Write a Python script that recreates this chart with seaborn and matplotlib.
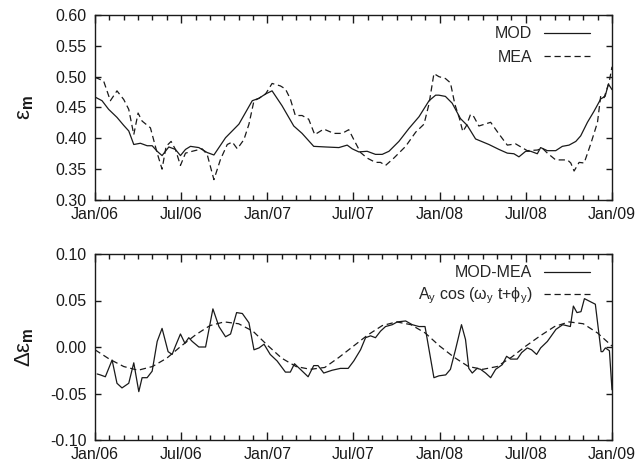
import numpy as np
import pandas as pd
import matplotlib
matplotlib.use('Agg')
import matplotlib.pyplot as plt
import seaborn as sns
from matplotlib.ticker import MultipleLocator, FormatStrFormatter

# ---- data (time in months since Jan 2006) ----
mod_t = [0.0, 0.49, 0.95, 1.53, 2.0, 2.35, 2.7, 3.16, 3.63, 3.98, 4.33, 4.67, 5.14, 5.6, 5.95,
         6.3, 6.65, 7.23, 7.81, 8.28, 9.09, 10.02, 10.95, 11.42, 11.88, 12.33, 13.02, 13.84,
         14.42, 15.23, 16.05, 16.98, 17.56, 17.91, 18.37, 18.95, 19.53, 20.0, 20.47, 21.16,
         21.86, 22.56, 23.26, 23.72, 23.94, 24.4, 24.87, 25.45, 25.92, 26.5, 27.43, 28.13,
         28.71, 29.17, 29.52, 29.99, 30.34, 30.8, 31.03, 31.5, 32.08, 32.54, 33.01, 33.48,
         33.82, 34.29, 34.75, 35.22, 35.52, 35.75, 36.0]
mod_v = [0.467, 0.461, 0.447, 0.434, 0.421, 0.412, 0.390, 0.392, 0.388, 0.388, 0.379, 0.372,
         0.386, 0.382, 0.372, 0.382, 0.387, 0.385, 0.377, 0.373, 0.401, 0.423, 0.461, 0.465,
         0.472, 0.477, 0.453, 0.420, 0.408, 0.387, 0.386, 0.385, 0.389, 0.383, 0.378, 0.379,
         0.374, 0.374, 0.379, 0.395, 0.416, 0.435, 0.461, 0.470, 0.470, 0.468, 0.457, 0.432,
         0.421, 0.399, 0.390, 0.382, 0.376, 0.375, 0.370, 0.379, 0.379, 0.375, 0.385, 0.380,
         0.380, 0.387, 0.389, 0.395, 0.404, 0.426, 0.444, 0.464, 0.468, 0.488, 0.479]

mea_t = [0.0, 0.6, 1.07, 1.53, 2.0, 2.35, 2.7, 3.0, 3.28, 3.86, 4.33, 4.67, 4.95, 5.3, 5.6,
         5.95, 6.3, 6.77, 7.46, 7.81, 8.28, 8.74, 9.21, 9.56, 9.91, 10.37, 10.72, 11.07,
         11.42, 11.88, 12.33, 12.91, 13.26, 13.6, 13.95, 14.42, 14.88, 15.3, 15.93, 16.63,
         17.21, 17.67, 18.02, 18.49, 18.95, 19.53, 19.88, 20.23, 20.81, 21.63, 22.33, 22.91,
         23.26, 23.6, 23.95, 24.4, 24.75, 25.06, 25.38, 25.61, 25.85, 26.15, 26.38, 26.73,
         27.55, 28.13, 28.71, 29.29, 30.1, 30.8, 31.15, 31.5, 32.08, 32.9, 33.13, 33.36,
         33.71, 34.06, 34.52, 34.99, 35.22, 35.45, 35.8, 36.0]
mea_v = [0.499, 0.493, 0.461, 0.477, 0.463, 0.447, 0.406, 0.441, 0.428, 0.417, 0.376, 0.350,
         0.387, 0.395, 0.382, 0.356, 0.376, 0.379, 0.383, 0.374, 0.333, 0.366, 0.390, 0.394,
         0.383, 0.398, 0.423, 0.461, 0.465, 0.472, 0.489, 0.485, 0.480, 0.464, 0.437, 0.437,
         0.431, 0.406, 0.415, 0.408, 0.408, 0.414, 0.398, 0.377, 0.368, 0.361, 0.361, 0.356,
         0.368, 0.387, 0.410, 0.423, 0.456, 0.505, 0.500, 0.497, 0.490, 0.455, 0.432, 0.411,
         0.420, 0.439, 0.435, 0.420, 0.426, 0.407, 0.389, 0.391, 0.380, 0.381, 0.384, 0.376,
         0.365, 0.365, 0.360, 0.347, 0.361, 0.360, 0.391, 0.426, 0.470, 0.466, 0.491, 0.516]

diff_t = [0.15, 0.37, 0.72, 1.19, 1.53, 1.88, 2.35, 2.7, 3.05, 3.28, 3.63, 3.98, 4.33, 4.67,
          5.09, 5.37, 5.6, 5.95, 6.26, 6.53, 6.77, 7.23, 7.7, 8.21, 8.63, 9.09, 9.44, 9.86,
          10.26, 10.72, 11.07, 11.42, 11.77, 12.2, 12.68, 13.26, 13.6, 13.89, 14.3, 14.84,
          15.23, 15.53, 15.93, 16.51, 17.09, 17.63, 18.02, 18.49, 18.84, 19.19, 19.53, 19.88,
          20.23, 20.7, 21.05, 21.63, 22.09, 22.56, 22.98, 23.6, 23.95, 24.42, 24.75, 25.1,
          25.52, 25.8, 26.03, 26.27, 26.6, 26.85, 27.2, 27.55, 27.9, 28.36, 28.66, 28.94,
          29.4, 29.71, 30.1, 30.4, 30.75, 31.03, 31.5, 32.1, 32.57, 33.1, 33.31, 33.56,
          33.84, 34.08, 34.84, 35.24, 35.35, 35.54, 35.82, 36.0]
diff_v = [-0.029, -0.030, -0.032, -0.014, -0.039, -0.044, -0.039, -0.017, -0.048, -0.033,
          -0.033, -0.026, 0.006, 0.020, -0.005, -0.008, 0.001, 0.014, 0.004, 0.010, 0.006,
          0.000, 0.000, 0.041, 0.022, 0.011, 0.014, 0.037, 0.036, 0.026, -0.003, -0.001,
          0.003, -0.008, -0.015, -0.027, -0.027, -0.018, -0.024, -0.032, -0.020, -0.020,
          -0.028, -0.025, -0.023, -0.023, -0.015, -0.003, 0.010, 0.012, 0.010, 0.017, 0.022,
          0.024, 0.027, 0.028, 0.024, 0.022, 0.022, -0.033, -0.031, -0.030, -0.024, -0.003,
          0.024, 0.008, -0.023, -0.028, -0.023, -0.024, -0.028, -0.033, -0.024, -0.019,
          -0.010, -0.013, -0.013, -0.006, -0.001, -0.003, -0.008, -0.001, 0.006, 0.019,
          0.024, 0.022, 0.044, 0.037, 0.038, 0.052, 0.046, -0.005, -0.005, -0.001, -0.004,
          -0.046]

fit_t = list(range(0, 37))
fit_v = [-0.003, -0.013, -0.021, -0.025, -0.021, -0.012, 0.001, 0.013, 0.023, 0.027, 0.025,
         0.017, 0.002, -0.012, -0.021, -0.024, -0.022, -0.011, 0.001, 0.013, 0.023, 0.027,
         0.024, 0.015, 0.001, -0.011, -0.021, -0.024, -0.021, -0.011, 0.001, 0.012, 0.022,
         0.027, 0.025, 0.015, 0.001]

xtick_pos = [0, 6, 12, 18, 24, 30, 36]
xtick_labels = ['Jan/06', 'Jul/06', 'Jan/07', 'Jul/07', 'Jan/08', 'Jul/08', 'Jan/09']

# ---- style ----
sns.set_theme(style='ticks')
plt.rcParams['font.family'] = ['Liberation Sans', 'DejaVu Sans']
plt.rcParams['mathtext.fontset'] = 'custom'
plt.rcParams['mathtext.rm'] = 'Liberation Sans'
plt.rcParams['mathtext.it'] = 'Liberation Sans:italic'
plt.rcParams['mathtext.bf'] = 'Liberation Sans:bold'

fig = plt.figure(figsize=(6.38, 4.68), dpi=100)
W, H = 638, 468
ax1 = fig.add_axes([95 / W, 1 - 200 / H, 517 / W, 185 / H])
ax2 = fig.add_axes([95 / W, 1 - 440 / H, 517 / W, 186 / H])

lc = '#1a1a1a'
dash = (0, (5, 3))

sns.lineplot(x=mod_t, y=mod_v, ax=ax1, color=lc, lw=0.9, label='MOD',
             estimator=None, sort=False)
sns.lineplot(x=mea_t, y=mea_v, ax=ax1, color=lc, lw=0.9, label='MEA',
             estimator=None, sort=False, linestyle=dash)
sns.lineplot(x=diff_t, y=diff_v, ax=ax2, color=lc, lw=0.9, label='MOD-MEA',
             estimator=None, sort=False)
sns.lineplot(x=fit_t, y=fit_v, ax=ax2, color=lc, lw=0.9,
             label=r'A$_\mathrm{y}$ cos (ω$_\mathrm{y}$ t+ϕ$_\mathrm{y}$)',
             estimator=None, sort=False, linestyle=dash)

for ax, (lo, hi, step) in zip([ax1, ax2], [(0.30, 0.60, 0.05), (-0.10, 0.10, 0.05)]):
    ax.set_xlim(0, 36)
    ax.set_ylim(lo, hi)
    ax.xaxis.set_major_locator(MultipleLocator(6))
    ax.xaxis.set_minor_locator(MultipleLocator(1))
    ax.set_xticks(xtick_pos)
    ax.set_xticklabels(xtick_labels)
    ax.yaxis.set_major_locator(MultipleLocator(step))
    ax.yaxis.set_major_formatter(FormatStrFormatter('%.2f'))
    ax.tick_params(which='both', direction='in', top=True, right=True,
                   labelsize=11.5, colors=lc)
    ax.tick_params(axis='x', which='major', length=6, width=1.0, pad=5)
    ax.tick_params(axis='x', which='minor', length=3.5, width=1.0)
    ax.tick_params(axis='y', which='major', length=4.5, width=1.0, pad=6)
    ax.tick_params(axis='y', which='minor', left=False, right=False)
    for s in ax.spines.values():
        s.set_linewidth(1.0)
        s.set_color(lc)
    ax.set_xlabel('')

ax1.legend(loc='upper right', bbox_to_anchor=(1 - 11 / 517, 1.0), frameon=False,
           markerfirst=False, fontsize=11.5, handlelength=2.9, handletextpad=0.7,
           labelspacing=0.55, borderaxespad=0.3)
ax2.legend(loc='upper right', bbox_to_anchor=(1 - 11 / 517, 1.0), frameon=False,
           markerfirst=False, fontsize=11.5, handlelength=2.9, handletextpad=0.7,
           labelspacing=0.35, borderaxespad=0.3)

ax1.set_ylabel(r'ε$_\mathbf{m}$', fontsize=16, color=lc)
ax2.set_ylabel(r'Δε$_\mathbf{m}$', fontsize=16, color=lc)
ax1.yaxis.set_label_coords(-0.115, 0.5)
ax2.yaxis.set_label_coords(-0.115, 0.5)

fig.savefig('out.png', dpi=100)
